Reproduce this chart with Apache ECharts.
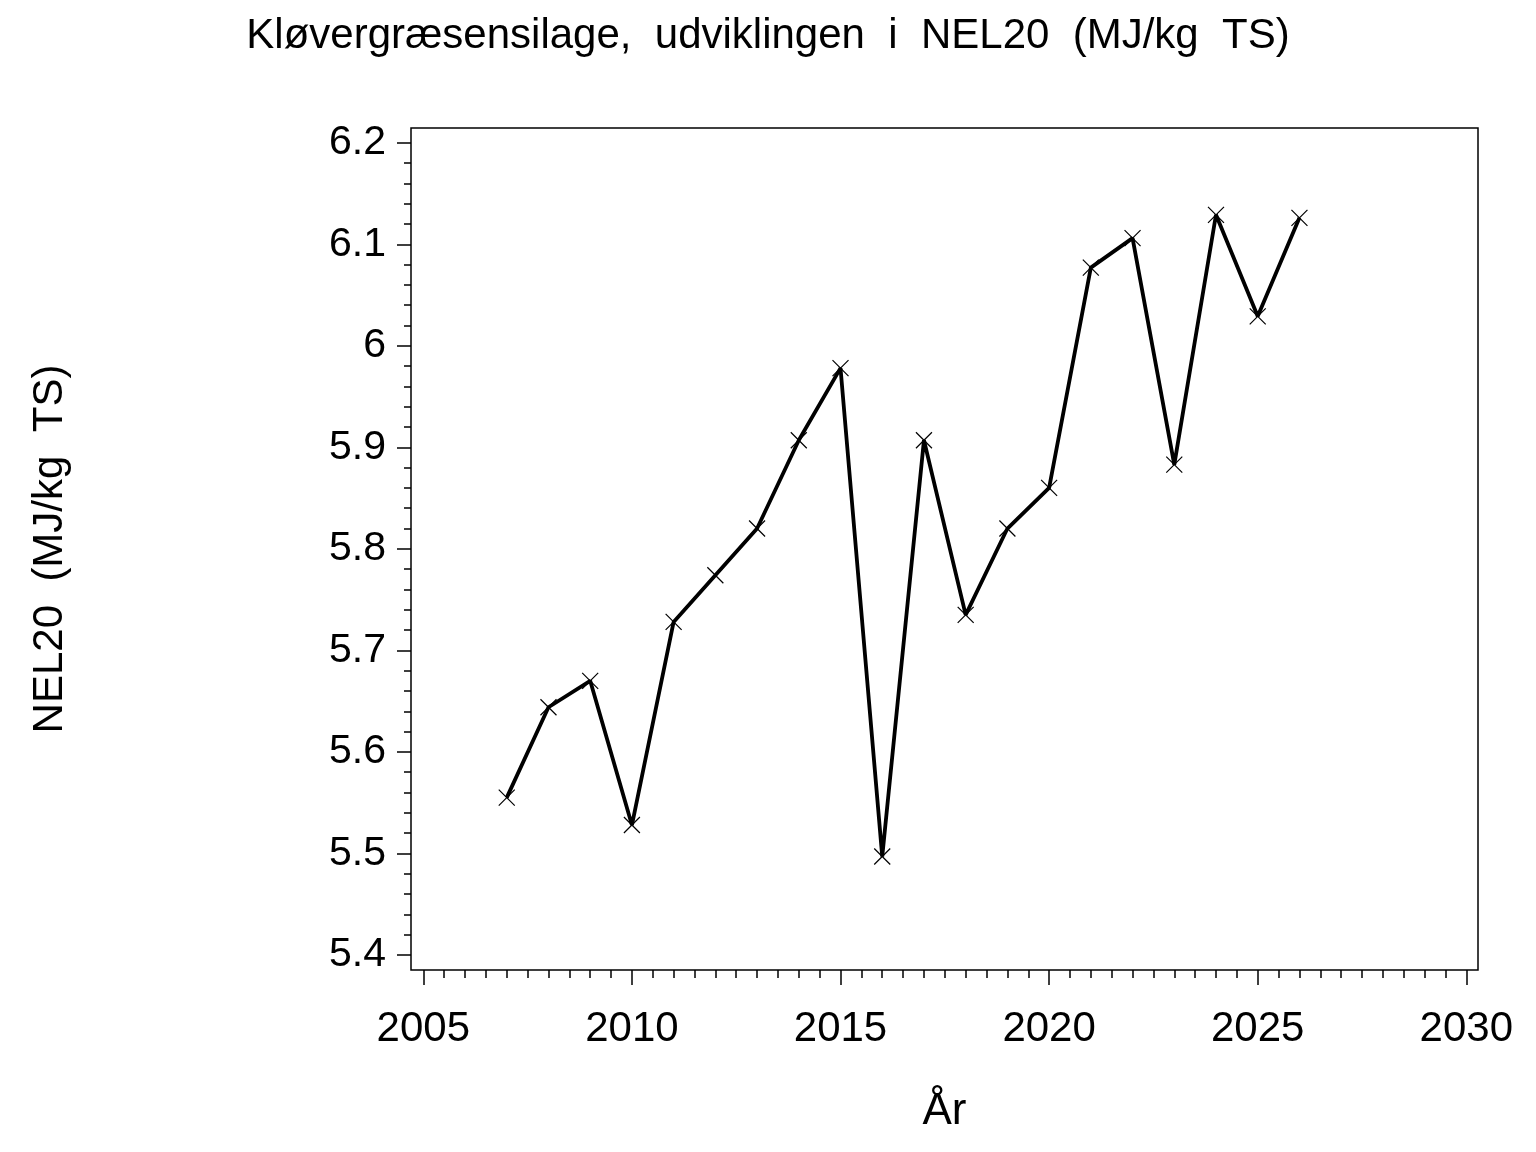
<!DOCTYPE html>
<html>
<head>
<meta charset="utf-8">
<script src="https://cdn.jsdelivr.net/npm/echarts@6/dist/echarts.min.js"></script>
<style>
	html, body { margin: 0; padding: 0; background: #fff; }
	#chart { width: 1536px; height: 1152px; }
</style>
</head>
<body>
<div id="chart"></div>
<script>
// data
const years = [2007, 2008, 2009, 2010, 2011, 2012, 2013, 2014, 2015, 2016,
	2017, 2018, 2019, 2020, 2021, 2022, 2023, 2024, 2025, 2026];
const nel20 = [5.555, 5.644, 5.670, 5.528, 5.728, 5.774, 5.820, 5.907, 5.978, 5.497,
	5.907, 5.735, 5.820, 5.860, 6.077, 6.106, 5.883, 6.129, 6.029, 6.126];
const yMajor = [5.4, 5.5, 5.6, 5.7, 5.8, 5.9, 6.0, 6.1, 6.2];
const xMajor = [2005, 2010, 2015, 2020, 2025, 2030];

// minor ticks: 0.02 on y, half year on x
const yMinor = [];
for (let i = 0; i <= 40; i++) yMinor.push(+(5.4 + i * 0.02).toFixed(2));
const xMinor = [];
for (let i = 0; i <= 50; i++) xMinor.push(2005 + i * 0.5);

const font = '"Liberation Sans", Arial, sans-serif';

(function () {
	let myChart = echarts.init(document.getElementById('chart'), null, { renderer: 'canvas' });
	const option = {
		animation: false,
		backgroundColor: '#fff',
		title: {
			text: 'Kløvergræsensilage,  udviklingen  i  NEL20  (MJ/kg  TS)',
			left: 'center',
			top: 10,
			textStyle: { fontFamily: font, fontSize: 42, fontWeight: 'normal', color: '#000' }
		},
		grid: {
			left: 411, right: 58, top: 128, bottom: 182,
			show: true,
			borderColor: '#000',
			borderWidth: 1.5,
			backgroundColor: 'transparent'
		},
		xAxis: [
			{
				type: 'value',
				min: 2004.705,
				max: 2030.28,
				name: 'År',
				nameLocation: 'middle',
				nameGap: 120,
				nameTextStyle: { fontFamily: font, fontSize: 44, color: '#000' },
				axisLine: { show: false, onZero: false },
				splitLine: { show: false },
				axisTick: {
					show: true, customValues: xMajor, length: 15,
					lineStyle: { color: '#000', width: 1.5 }
				},
				axisLabel: {
					customValues: xMajor, margin: 38,
					fontFamily: font, fontSize: 42, color: '#000',
					formatter: function (v) { return String(Math.round(v)); }
				}
			},
			{
				type: 'value',
				min: 2004.705,
				max: 2030.28,
				position: 'bottom',
				axisLine: { show: false, onZero: false },
				splitLine: { show: false },
				axisTick: {
					show: true, customValues: xMinor, length: 8,
					lineStyle: { color: '#000', width: 1.5 }
				},
				axisLabel: { show: false }
			}
		],
		yAxis: [
			{
				type: 'value',
				min: 5.3852,
				max: 6.2145,
				name: 'NEL20  (MJ/kg  TS)',
				nameLocation: 'middle',
				nameGap: 340,
				nameTextStyle: { fontFamily: font, fontSize: 42, color: '#000' },
				axisLine: { show: false, onZero: false },
				splitLine: { show: false },
				axisTick: {
					show: true, customValues: yMajor, length: 14,
					lineStyle: { color: '#000', width: 1.5 }
				},
				axisLabel: {
					customValues: yMajor, margin: 25,
					fontFamily: font, fontSize: 41, color: '#000',
					formatter: function (v) { return String(+v.toFixed(2)); }
				}
			},
			{
				type: 'value',
				min: 5.3852,
				max: 6.2145,
				position: 'left',
				axisLine: { show: false, onZero: false },
				splitLine: { show: false },
				axisTick: {
					show: true, customValues: yMinor, length: 7,
					lineStyle: { color: '#000', width: 1.5 }
				},
				axisLabel: { show: false }
			}
		],
		series: [
			{
				name: 'NEL20',
				type: 'line',
				xAxisIndex: 0,
				yAxisIndex: 0,
				data: years.map((y, i) => [y, nel20[i]]),
				// kryds som markør
				symbol: 'path://M0,0L10,10M10,0L0,10',
				symbolSize: 16,
				showAllSymbol: true,
				lineStyle: { color: '#000', width: 3.8 },
				itemStyle: { color: 'none', borderColor: '#000', borderWidth: 1.2 },
				z: 3
			}
		]
	};
	myChart.setOption(option);
})();
</script>
</body>
</html>
